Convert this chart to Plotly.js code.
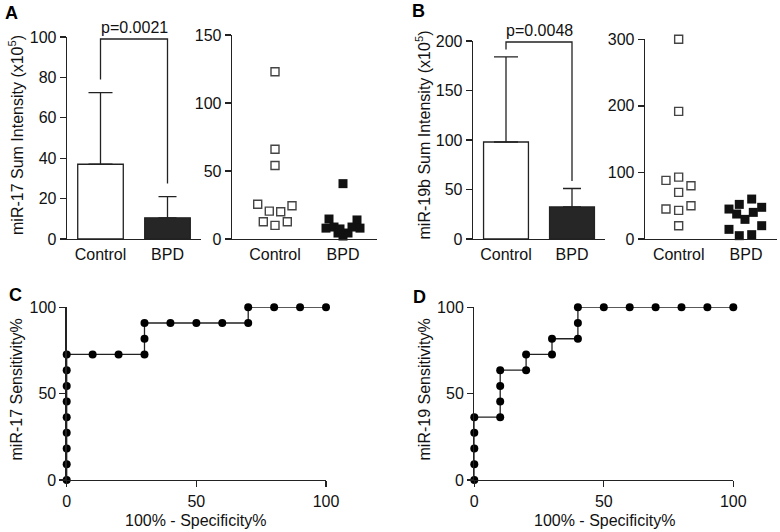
<!DOCTYPE html>
<html>
<head>
<meta charset="utf-8">
<script src="https://cdn.plot.ly/plotly-3.0.1.min.js"></script>
<style>html,body{margin:0;padding:0;background:#fff}#chart{width:780px;height:532px}</style>
</head>
<body>
<div id="chart"></div>
<script>
// ---------------- DATA ----------------
const groups = ["Control", "BPD"];
const mir17Mean = [37, 10.5];
const mir17SD = [35.5, 10.5];
const mir19bMean = [98, 32.3];
const mir19bSD = [86, 18.7];
const pMir17 = "p=0.0021";
const pMir19b = "p=0.0048";
const mir17Control = [123, 66, 54, 25.6, 20.5, 20, 24.5, 12.7, 10, 12.7];
const mir17BPD = [40.7, 14.7, 8, 8.8, 4.4, 2.2, 4.4, 8.8, 14, 8, 7.4];
const mir19bControl = [300, 191.7, 88, 93, 80, 70, 45, 43, 50, 20];
const mir19bBPD = [45, 52, 60, 47.6, 37.5, 40, 29.5, 14.5, 20, 5, 6.5];
const roc17Fpr = [0, 0, 0, 0, 0, 0, 0, 0, 0, 10, 20, 30, 30, 30, 40, 50, 60, 70, 70, 80, 90, 100];
const roc17Sens = [0, 9.1, 18.2, 27.3, 36.4, 45.5, 54.5, 63.6, 72.7, 72.7, 72.7, 72.7, 81.8, 90.9, 90.9, 90.9, 90.9, 90.9, 100, 100, 100, 100];
const roc19Fpr = [0, 0, 0, 0, 0, 10, 10, 10, 10, 20, 20, 30, 30, 40, 40, 40, 50, 60, 70, 80, 90, 100];
const roc19Sens = [0, 9.1, 18.2, 27.3, 36.4, 36.4, 45.5, 54.5, 63.6, 63.6, 72.7, 72.7, 81.8, 81.8, 90.9, 100, 100, 100, 100, 100, 100, 100];

// ---------------- LAYOUT CONSTANTS (pixels) ----------------
const W = 780, H = 532;
const FONT = "Liberation Sans, Arial, Helvetica, sans-serif";
const INK = "#222";
// dot-plot horizontal spread (px) for each point
const jit17C = [0, 0, 0, -17.3, -5.7, 5.7, 17, -11.7, 0, 12.3];
const jit17B = [0, -14, -17, -9, -5, 0, 5, 9, 14, 17, -3];
const jit19C = [0, 0, -12.7, 0, 12.3, 0, -12.7, 0, 12.3, 0];
const jit19B = [-17, -6.7, 5.7, 15.7, -9.3, 7.3, -1, -17, 15.7, -6.7, 5.7];
const catPx = 68; // px between category centres in dot plots

const px = (a, b) => [a / W, b / W];
const py = (top, bottom) => [1 - bottom / H, 1 - top / H];

function ax(extra) {
  return Object.assign({
    showline: true, linecolor: INK, linewidth: 1.3,
    showgrid: false, zeroline: false,
    ticks: "outside", ticklen: 6, tickwidth: 1.3, tickcolor: INK,
    tickfont: {family: FONT, size: 16, color: "#111"},
    fixedrange: true
  }, extra);
}

const traces = [];
function barPair(xa, ya, means, sds, caps) {
  const fills = ["#ffffff", "#262626"];
  groups.forEach((g, i) => {
    traces.push({
      type: "bar", x: [g], y: [means[i]], xaxis: xa, yaxis: ya, width: 0.68,
      marker: {color: fills[i], line: {color: INK, width: 1.3}},
      error_y: {type: "data", symmetric: false, array: [sds[i]], arrayminus: [0],
        color: INK, thickness: 1.3, width: caps[i]},
      hoverinfo: "skip", showlegend: false
    });
  });
}
function bracket(xa, ya, means, sds, top, gap) {
  traces.push({
    type: "scatter", mode: "lines", xaxis: xa, yaxis: ya,
    x: [groups[0], groups[0], groups[1], groups[1]],
    y: [means[0] + sds[0] + gap, top, top, means[1] + sds[1] + gap],
    line: {color: INK, width: 1.3}, hoverinfo: "skip", showlegend: false
  });
}
function dots(xa, ya, ctrl, bpd, jc, jb, scale) {
  traces.push({
    type: "scatter", mode: "markers", xaxis: xa, yaxis: ya, cliponaxis: false,
    x: ctrl.map((v, i) => 0 + jc[i] / scale), y: ctrl,
    marker: {symbol: "square-open", size: 8, color: "#444", line: {width: 1.4}},
    hoverinfo: "skip", showlegend: false
  });
  traces.push({
    type: "scatter", mode: "markers", xaxis: xa, yaxis: ya, cliponaxis: false,
    x: bpd.map((v, i) => 1 + jb[i] / scale), y: bpd,
    marker: {symbol: "square", size: 9, color: "#111"},
    hoverinfo: "skip", showlegend: false
  });
}
function roc(xa, ya, fx, sy) {
  traces.push({
    type: "scatter", mode: "lines+markers", xaxis: xa, yaxis: ya, cliponaxis: false,
    x: fx, y: sy, line: {color: INK, width: 1.3},
    marker: {symbol: "circle", size: 8, color: "#000"},
    hoverinfo: "skip", showlegend: false
  });
}

barPair("x", "y", mir17Mean, mir17SD, [12, 9]);
bracket("x", "y", mir17Mean, mir17SD, 99, 6.5);
dots("x2", "y2", mir17Control, mir17BPD, jit17C, jit17B, catPx);
barPair("x3", "y3", mir19bMean, mir19bSD, [12, 9]);
bracket("x3", "y3", mir19bMean, mir19bSD, 199, 7.5);
dots("x4", "y4", mir19bControl, mir19bBPD, jit19C, jit19B, 67.3);
roc("x5", "y5", roc17Fpr, roc17Sens);
roc("x6", "y6", roc19Fpr, roc19Sens);

const catAxis = (dom, anchor) => ax({domain: dom, anchor: anchor, type: "category",
  categoryorder: "array", categoryarray: groups, range: [-0.5, 1.5], ticks: ""});
const dotAxis = (dom, anchor, lo, hi) => ax({domain: dom, anchor: anchor, range: [lo, hi],
  tickvals: [0, 1], ticktext: groups, ticks: ""});

function txt(x, y, text, opts) {
  return Object.assign({xref: "paper", yref: "paper", x: x / W, y: 1 - y / H,
    text: text, showarrow: false, xanchor: "center", yanchor: "middle",
    font: {family: FONT, size: 16, color: "#111"}}, opts || {});
}

const layout = {
  width: W, height: H, margin: {l: 0, r: 0, t: 0, b: 0},
  paper_bgcolor: "#fff", plot_bgcolor: "#fff",
  bargap: 0.32,
  xaxis: catAxis(px(67, 201), "y"),
  yaxis: ax({domain: py(37, 239), anchor: "x", range: [0, 100], dtick: 20}),
  xaxis2: dotAxis(px(232, 377), "y2", -43 / 68, 1 + 34 / 68),
  yaxis2: ax({domain: py(35, 239), anchor: "x2", range: [0, 150], dtick: 50}),
  xaxis3: catAxis(px(473, 605), "y3"),
  yaxis3: ax({domain: py(41, 239), anchor: "x3", range: [0, 200], dtick: 50}),
  xaxis4: dotAxis(px(645, 777), "y4", -0.5, 1 + 31 / 67.3),
  yaxis4: ax({domain: py(39.3, 239), anchor: "x4", range: [0, 300], dtick: 100}),
  xaxis5: ax({domain: px(66.7, 326), anchor: "y5", range: [0, 100], dtick: 50}),
  yaxis5: ax({domain: py(307.3, 480), anchor: "x5", range: [0, 100], dtick: 50}),
  xaxis6: ax({domain: px(474.3, 733.3), anchor: "y6", range: [0, 100], dtick: 50}),
  yaxis6: ax({domain: py(307.3, 480), anchor: "x6", range: [0, 100], dtick: 50}),
  annotations: [
    {xref: "x", yref: "y", x: 0.5, y: 99, text: pMir17, showarrow: false,
      yanchor: "bottom", xanchor: "center", yshift: 1, font: {family: FONT, size: 16, color: "#111"}},
    {xref: "x3", yref: "y3", x: 0.5, y: 199, text: pMir19b, showarrow: false,
      yanchor: "bottom", xanchor: "center", yshift: 1, font: {family: FONT, size: 16, color: "#111"}},
    txt(11, 13.5, "<b>A</b>", {font: {family: FONT, size: 18, color: "#000"}}),
    txt(418, 11, "<b>B</b>", {font: {family: FONT, size: 18, color: "#000"}}),
    txt(15, 295, "<b>C</b>", {font: {family: FONT, size: 18, color: "#000"}}),
    txt(419, 297, "<b>D</b>", {font: {family: FONT, size: 18, color: "#000"}}),
    txt(15.5, 135.5, "miR-17 Sum Intensity (x10<sup>5</sup>)", {textangle: -90}),
    txt(423.5, 135, "miR-19b Sum Intensity (x10<sup>5</sup>)", {textangle: -90}),
    txt(15.5, 390, "miR-17 Sensitivity%", {textangle: -90}),
    txt(423.5, 389, "miR-19 Sensitivity%", {textangle: -90}),
    txt(195, 520, "100% - Specificity%"),
    txt(604, 520, "100% - Specificity%")
  ]
};

Plotly.newPlot("chart", traces, layout, {staticPlot: true, displayModeBar: false});
</script>
</body>
</html>
